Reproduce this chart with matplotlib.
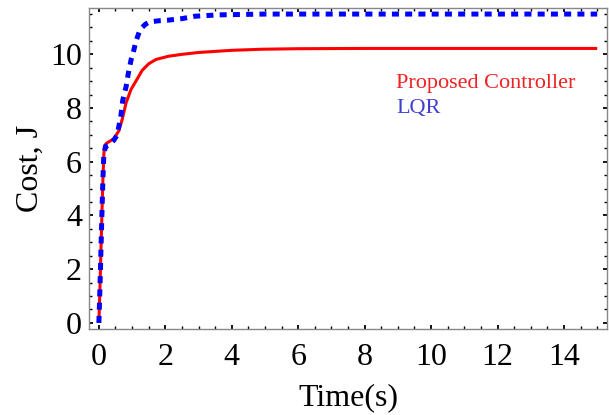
import matplotlib.pyplot as plt
from matplotlib.ticker import MultipleLocator

# cost trajectories, J(t)
t_prop = [0, 0.03, 0.06, 0.09, 0.12, 0.15, 0.18, 0.24, 0.35, 0.45, 0.6, 0.7, 0.82,
          0.97, 1.2, 1.3, 1.5, 1.72, 2.1, 2.5, 3.0, 4.0, 4.9, 6.0, 8.0, 10.0, 15.0]
j_prop = [0, 1.2, 2.6, 4.0, 5.3, 6.3, 6.62, 6.7, 6.78, 6.86, 7.15, 7.57, 8.2,
          8.7, 9.18, 9.4, 9.65, 9.81, 9.93, 10.0, 10.07, 10.15, 10.19, 10.21, 10.22, 10.22, 10.22]

t_lqr = [0, 0.03, 0.06, 0.09, 0.12, 0.15, 0.2, 0.3, 0.45, 0.55, 0.66, 0.72, 0.82,
         0.88, 0.97, 1.03, 1.12, 1.21, 1.3, 1.4, 1.5, 1.6, 1.8, 2.06, 2.5, 2.9,
         3.6, 5.0, 8.0, 15.0]
j_lqr = [0, 1.2, 2.6, 4.0, 5.3, 6.3, 6.57, 6.62, 6.8, 7.0, 7.69, 8.3, 8.8,
         9.25, 9.8, 10.05, 10.5, 10.82, 11.0, 11.12, 11.19, 11.22, 11.25, 11.27, 11.33, 11.42,
         11.47, 11.5, 11.5, 11.5]

plt.rcParams['font.family'] = ['Liberation Serif', 'DejaVu Serif']

fig = plt.figure(figsize=(6.09, 4.15), dpi=100)
ax = fig.add_axes([0.146, 0.207, 0.851, 0.774])

ax.plot(t_prop, j_prop, color='#ff0000', lw=2.2, solid_capstyle='butt')
ax.plot(t_lqr, j_lqr, color='#0000ff', lw=3.6, dashes=(1.4, 1.25))

ax.set_xlim(-0.3, 15.3)
ax.set_ylim(-0.23, 11.73)
ax.xaxis.set_major_locator(MultipleLocator(2))
ax.xaxis.set_minor_locator(MultipleLocator(0.5))
ax.yaxis.set_major_locator(MultipleLocator(2))
ax.yaxis.set_minor_locator(MultipleLocator(0.5))

ax.tick_params(which='both', direction='in', top=True, right=True,
               labeltop=False, labelright=False, color='black')
ax.tick_params(which='major', length=3, width=1.3, labelsize=23, pad=5)
ax.tick_params(axis='x', which='major', pad=10)
ax.tick_params(which='minor', length=2.2, width=1.0)
for s in ax.spines.values():
    s.set_color('#888888')
    s.set_linewidth(1.0)

ax.set_xlabel('Time(s)', fontsize=23, labelpad=8)
ax.set_ylabel('Cost, J', fontsize=23, labelpad=4)

ax.text(0.593, 0.766, 'Proposed Controller', color='#ee2222', fontsize=16,
        transform=ax.transAxes, va='center')
ax.text(0.593, 0.688, 'LQR', color='#4040d0', fontsize=16,
        transform=ax.transAxes, va='center')

fig.savefig('out.png', dpi=100)
